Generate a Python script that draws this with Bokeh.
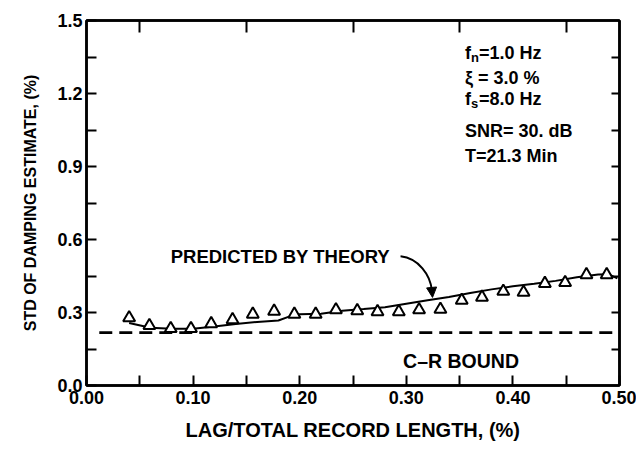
from bokeh.plotting import figure
from bokeh.models import (LinearAxis, FixedTicker, Range1d, Arrow, NormalHead,
                          Label, NumeralTickFormatter, ColumnDataSource)
from bokeh.embed import file_html
from bokeh.resources import INLINE

# ---- data ----
lag_obs = [0.040, 0.059, 0.079, 0.098, 0.117, 0.137, 0.156, 0.176, 0.195, 0.215,
           0.234, 0.254, 0.273, 0.293, 0.312, 0.332, 0.352, 0.371, 0.391, 0.410,
           0.430, 0.449, 0.469, 0.488]
std_obs = [0.278, 0.246, 0.234, 0.234, 0.254, 0.270, 0.293, 0.305, 0.293, 0.293,
           0.311, 0.307, 0.303, 0.303, 0.311, 0.313, 0.350, 0.363, 0.387, 0.383,
           0.419, 0.423, 0.455, 0.455]

lag_theory = [0.040, 0.060, 0.080, 0.100, 0.120, 0.140, 0.160, 0.180, 0.190, 0.200,
              0.220, 0.240, 0.260, 0.280, 0.300, 0.320, 0.340, 0.360, 0.380, 0.400,
              0.420, 0.440, 0.460, 0.480, 0.490, 0.498]
std_theory = [0.257, 0.237, 0.233, 0.233, 0.242, 0.253, 0.261, 0.267, 0.283, 0.293,
              0.295, 0.307, 0.314, 0.322, 0.336, 0.350, 0.364, 0.380, 0.395, 0.408,
              0.418, 0.430, 0.445, 0.456, 0.457, 0.440]

cr_lag = [0.012, 0.500]
cr_bound = [0.217, 0.217]

x_ticks = [0.0, 0.1, 0.2, 0.3, 0.4, 0.5]
x_minor = [0.05, 0.15, 0.25, 0.35, 0.45]
y_ticks = [0.0, 0.3, 0.6, 0.9, 1.2, 1.5]
y_minor = [0.15, 0.45, 0.75, 1.05, 1.35]
y_right = [0.15, 0.3, 0.45, 0.6, 0.75, 0.9, 1.05, 1.2, 1.35]

FONT = "Liberation Sans"
INK = "#000000"

p = figure(width=636, height=443, x_range=Range1d(0, 0.5), y_range=Range1d(0, 1.5),
           output_backend="svg", toolbar_location=None,
           min_border_left=86, min_border_top=20, min_border_right=17, min_border_bottom=50)
p.grid.visible = False
p.outline_line_color = INK
p.outline_line_width = 2.5
p.background_fill_color = "white"
p.border_fill_color = "white"

# bottom axis
xa = p.xaxis[0]
xa.ticker = FixedTicker(ticks=x_ticks, minor_ticks=x_minor)
xa.formatter = NumeralTickFormatter(format="0.00")
xa.axis_label = "LAG/TOTAL RECORD LENGTH, (%)"
# left axis
ya = p.yaxis[0]
ya.ticker = FixedTicker(ticks=y_ticks, minor_ticks=y_minor)
ya.formatter = NumeralTickFormatter(format="0.0")
ya.axis_label = "STD OF DAMPING ESTIMATE, (%)"

for ax in (xa, ya):
    ax.axis_line_width = 2.5
    ax.axis_line_color = INK
    ax.major_tick_in = 10
    ax.major_tick_out = 0
    ax.minor_tick_in = 10
    ax.minor_tick_out = 0
    ax.major_tick_line_width = 2
    ax.minor_tick_line_width = 2
    ax.major_tick_line_color = INK
    ax.minor_tick_line_color = INK
    ax.major_label_text_font = FONT
    ax.major_label_text_font_style = "bold"
    ax.major_label_text_font_size = "18px"
    ax.major_label_text_color = INK
    ax.axis_label_text_font = FONT
    ax.axis_label_text_font_style = "bold"
    ax.axis_label_text_color = INK
xa.axis_label_text_font_size = "20px"
xa.axis_label_standoff = 12
xa.major_label_standoff = 5
ya.axis_label_text_font_size = "16px"
ya.axis_label_standoff = 15
ya.major_label_standoff = 4

# top and right axes (ticks only)
top = LinearAxis(ticker=FixedTicker(ticks=[], minor_ticks=x_minor))
right = LinearAxis(ticker=FixedTicker(ticks=[], minor_ticks=y_right))
for ax, tin in ((top, 12), (right, 8)):
    ax.axis_line_width = 2.5
    ax.axis_line_color = INK
    ax.minor_tick_in = tin
    ax.minor_tick_out = 0
    ax.major_tick_in = 0
    ax.major_tick_out = 0
    ax.minor_tick_line_width = 2
    ax.minor_tick_line_color = INK
p.add_layout(top, "above")
p.add_layout(right, "right")

# C-R bound (dashed)
p.line(cr_lag, cr_bound, line_color=INK, line_width=2.8, line_dash="13 7")
# theory curve
p.line(lag_theory, std_theory, line_color=INK, line_width=2)
# observed estimates (open triangles)
src = ColumnDataSource(dict(x=lag_obs, y=std_obs))
p.scatter("x", "y", source=src, marker="triangle", size=12, line_color=INK,
          line_width=2, fill_color="white")

# annotations
def lab(x, y, text, size="18px", xo=0, yo=0, align="left"):
    l = Label(x=x, y=y, text=text, x_offset=xo, y_offset=yo, text_font=FONT,
              text_font_style="bold", text_font_size=size, text_color=INK,
              text_baseline="middle", text_align=align)
    p.add_layout(l)

lab(0.079, 0.530, "PREDICTED BY THEORY", size="18.5px")
lab(0.297, 0.100, "C\u2013R BOUND", size="19.5px")

px = 0.355
lab(px, 1.367, "f")
lab(px, 1.367, "n", size="13px", xo=6, yo=-5)
lab(px, 1.367, "=1.0 Hz", xo=14)
lab(px, 1.263, "\u03be = 3.0 %")
lab(px, 1.178, "f")
lab(px, 1.178, "s", size="13px", xo=6, yo=-5)
lab(px, 1.178, "=8.0 Hz", xo=14)
lab(px, 1.045, "SNR= 30. dB")
lab(px, 0.945, "T=21.3 Min")

# curved pointer from label to theory curve
p.bezier(x0=[0.2946], y0=[0.5308], x1=[0.3240], y1=[0.3900],
         cx0=[0.3114], cy0=[0.5227], cx1=[0.3227], cy1=[0.4544],
         line_color=INK, line_width=2)
p.add_layout(Arrow(end=NormalHead(size=10, fill_color=INK, line_color=INK),
                   x_start=0.3238, y_start=0.40, x_end=0.3246, y_end=0.362,
                   line_color=INK, line_width=2))

open("out.html", "w").write(file_html(p, INLINE))
